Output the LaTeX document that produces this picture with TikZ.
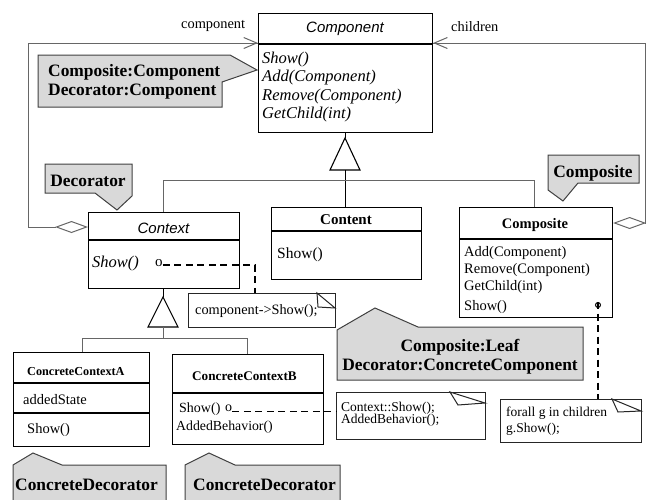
\documentclass[tikz,border=0pt]{standalone}
\usepackage{fontspec}
\setmainfont{Liberation Serif}
\newfontfamily\sansfam{Liberation Sans}
\usetikzlibrary{arrows.meta}
\newcommand{\fsz}[1]{\fontsize{#1}{#1}\selectfont}

\tikzset{
  cls/.style={draw=black, line width=1.1pt, fill=white, inner sep=0pt, anchor=north west},
  divl/.style={draw=black, line width=1.1pt},
  conn/.style={draw=black!60, line width=1pt},
  tag/.style={draw=black!75, fill=black!15, line width=1pt, line join=miter},
  memo/.style={draw=black!85, line width=1pt, fill=white, inner sep=0pt, anchor=north west},
  dsh/.style={draw=black, line width=1.2pt, dash pattern=on 7pt off 4.5pt},
  txt/.style={inner sep=0pt, anchor=west},
  clsname/.style={inner sep=0pt, font=\sansfam\itshape\fsz{15}},
  bname/.style={inner sep=0pt, font=\bfseries\fsz{14.5}},
  imeth/.style={txt, font=\itshape\fsz{16.5}},
  meth/.style={txt, font=\fsz{14.5}},
  small/.style={txt, font=\fsz{13.5}},
  tagtxt/.style={inner sep=0pt, font=\bfseries\fsz{17.4}},
  barb/.style={-{Straight Barb[length=13pt,width=11pt,line width=1pt]}},
  agg/.style={{Diamond[open,length=33pt,width=12pt,line width=1pt]}-},
}

\begin{document}
\begin{tikzpicture}[x=1pt,y=-1pt]
\useasboundingbox (0,0) rectangle (648,499);

% ---------- class boxes ----------
\node[cls, minimum width=174pt, minimum height=119pt] (component) at (258,13) {};
\draw[divl] (component.west |- 0,44) -- (component.east |- 0,44);
\node[clsname] (componentT) at (345,29) {Component};
\node[imeth] (cm1) at (262,60) {Show()};
\node[imeth] (cm2) at (262,78) {Add(Component)};
\node[imeth] (cm3) at (262,97) {Remove(Component)};
\node[imeth] (cm4) at (262,115) {GetChild(int)};

\node[cls, minimum width=151pt, minimum height=76pt] (context) at (88,212) {};
\draw[divl] (context.west |- 0,240) -- (context.east |- 0,240);
\node[clsname] (contextT) at (163.5,228) {Context};
\node[imeth] (xm1) at (92,264) {Show()};
\node[txt, font=\fsz{15}] (ctxo) at (155,263) {o};

\node[cls, minimum width=150pt, minimum height=72pt] (content) at (271,207) {};
\draw[divl] (content.west |- 0,231) -- (content.east |- 0,231);
\node[bname, font=\bfseries\fsz{15}] (contentT) at (346,220) {Content};
\node[txt, font=\fsz{15.5}] (nm1) at (277,255) {Show()};

\node[cls, minimum width=153pt, minimum height=110pt] (composite) at (459,207) {};
\draw[divl] (composite.west |- 0,239) -- (composite.east |- 0,239);
\node[bname] (compositeT) at (535,225) {Composite};
\node[meth] (pm1) at (464,253) {Add(Component)};
\node[meth] (pm2) at (464,270) {Remove(Component)};
\node[meth] (pm3) at (464,287) {GetChild(int)};
\node[meth] (pm4) at (464,307) {Show()};
\node[circle, draw=black, fill=white, line width=1pt, minimum size=5pt, inner sep=0pt] (cmpo) at (598,305) {};

\node[cls, minimum width=136pt, minimum height=94pt] (ccA) at (13,352) {};
\draw[divl] (ccA.west |- 0,383) -- (ccA.east |- 0,383);
\draw[divl] (ccA.west |- 0,413) -- (ccA.east |- 0,413);
\node[txt, font=\bfseries\fsz{12.2}] (ccAT) at (27,372) {ConcreteContextA};
\node[meth] (am1) at (23,400) {addedState};
\node[meth] (am2) at (27,430) {Show()};

\node[cls, minimum width=151pt, minimum height=90pt] (ccB) at (172,354) {};
\draw[divl] (ccB.west |- 0,393) -- (ccB.east |- 0,393);
\node[txt, font=\bfseries\fsz{13.2}] (ccBT) at (192,376) {ConcreteContextB};
\node[txt, font=\fsz{14}] (bm1) at (179,409) {Show()};
\node[txt, font=\fsz{14}] (ccbo) at (225,408) {o};
\node[txt, font=\fsz{13.8}] (bm2) at (176,427) {AddedBehavior()};

% ---------- notes with folded corner ----------
\node[memo, minimum width=147pt, minimum height=34pt] (memoA) at (188,293) {};
\draw[memo] (317,293) -- (318,307) -- (335,308) -- cycle;
\node[small, font=\fsz{14.3}] (memoAt) at (195,311) {component->Show();};

\node[memo, minimum width=149pt, minimum height=47pt] (memoB) at (336,392) {};
\draw[memo] (450,392) -- (458,405) -- (485,403) -- cycle;
\node[small] (memoBt1) at (341,408) {Context::Show();};
\node[small] (memoBt2) at (341,420) {AddedBehavior();};

\node[memo, minimum width=141pt, minimum height=43pt] (memoC) at (500,399) {};
\draw[memo] (612,399) -- (618,412) -- (641,411) -- cycle;
\node[small] (memoCt1) at (506,413) {forall g in children};
\node[small] (memoCt2) at (506,429) {g.Show();};

% ---------- gray role tags ----------
\draw[tag] (38,55) -- (230,55) -- (257,70) -- (222,82) -- (222,107) -- (38,107) -- cycle;
\node[tagtxt, anchor=west] (tag1a) at (48,72) {Composite:Component};
\node[tagtxt, anchor=west] (tag1b) at (48,92) {Decorator:Component};

\draw[tag] (45,164) -- (132,164) -- (132,196) -- (117,210) -- (95,193) -- (45,193) -- cycle;
\node[tagtxt] (tag2) at (88,181) {Decorator};

\draw[tag] (548,155) -- (639,155) -- (639,183) -- (578,183) -- (563,201) -- (548,190) -- cycle;
\node[tagtxt] (tag3) at (593,173) {Composite};

\draw[tag] (337,330) -- (375,308) -- (418,327) -- (583,327) -- (583,380) -- (337,380) -- cycle;
\node[tagtxt] (tag4a) at (460,347) {Composite:Leaf};
\node[tagtxt] (tag4b) at (460,367) {Decorator:ConcreteComponent};

\draw[tag] (13,465) -- (33,453) -- (62,465) -- (166,465) -- (166,510) -- (13,510) -- cycle;
\node[tagtxt, anchor=west] (tag5) at (15,485) {ConcreteDecorator};

\draw[tag] (185,465) -- (209,453) -- (235,465) -- (340,465) -- (340,510) -- (185,510) -- cycle;
\node[tagtxt, anchor=west] (tag6) at (193,485) {ConcreteDecorator};

% ---------- generalisation: Component <- Context, Content, Composite ----------
\coordinate (apex1) at (345,138);
\coordinate (base1) at (345,170);
\coordinate (bar1) at (345,180);
\draw[conn, draw=black] (component.south -| apex1) -- (apex1);
\draw[draw=black, line width=1.1pt, line join=miter] (apex1) -- (330,170) -- (360,170) -- cycle;
\draw[conn, draw=black] (base1) -- (base1 |- content.north);
\draw[conn] (context.north -| 163,0) -- (163,180) -- (534,180) -- (composite.north -| 534,0);

% ---------- generalisation: Context <- ConcreteContextA, ConcreteContextB ----------
\coordinate (apex2) at (163,297);
\coordinate (base2) at (163,327);
\draw[conn, draw=black] (context.south -| apex2) -- (apex2);
\draw[draw=black, line width=1.1pt, line join=miter] (apex2) -- (148,327) -- (178,327) -- cycle;
\draw[conn] (base2) -- (163,338);
\draw[conn] (ccA.north -| 82,0) -- (82,338) -- (247,338) -- (ccB.north -| 247,0);

% ---------- aggregations ----------
\coordinate (lftA) at (28,227);
\coordinate (lftB) at (28,43);
\draw[conn, agg] (context.west |- lftA) -- (lftA) -- (lftB) -- (component.west |- lftB);
\draw[conn, barb] (lftB) -- (component.west |- lftB);
\node[txt, font=\fsz{14.4}] (lblcomp) at (181,26) {component};

\coordinate (rgtA) at (645,223);
\coordinate (rgtB) at (645,43);
\draw[conn, agg] (composite.east |- rgtA) -- (rgtA) -- (rgtB) -- (component.east |- rgtB);
\draw[conn, barb] (rgtB) -- (component.east |- rgtB);
\node[txt, font=\fsz{14.4}] (lblchild) at (451,27) {children};

% ---------- implementation links ----------
\coordinate (bendA) at (255,265);
\draw[dsh] (ctxo.east |- bendA) -- (bendA) -- (bendA |- memoA.north);
\draw[dsh] (ccbo.south east) -- (memoB.west |- ccbo.south east);
\draw[dsh] (cmpo.north) -- (cmpo |- memoC.north);
\end{tikzpicture}
\end{document}
